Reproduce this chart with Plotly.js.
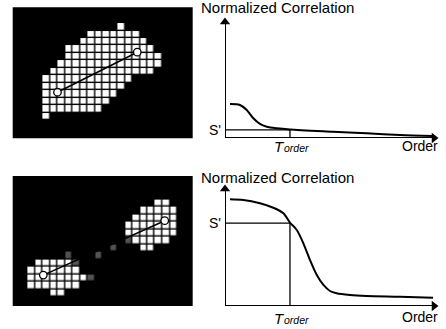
<!DOCTYPE html>
<html><head><meta charset="utf-8">
<script src="https://cdn.plot.ly/plotly-3.0.1.min.js"></script>
<style>html,body{margin:0;padding:0;background:#fff}#chart{width:446px;height:329px}</style>
</head><body><div id="chart"></div>
<script>
// ---- Panel 1: single connected pixel region ('#' white pixel, '.' empty)
const grid1Rows = [
  "..........#.....",
  "......#######...",
  ".....#########..",
  "...############.",
  "...#############",
  "..##############",
  ".##############.",
  "############....",
  "###########.....",
  "##########......",
  "#########.......",
  "########........",
  "#..............."
];
// ---- Panel 2: two separated pixel clusters ('+' dim noise pixel)
const grid2Rows = [
  ".................##.",
  "...............#####",
  "..............######",
  ".............#######",
  ".............#######",
  ".............+#####.",
  "...........+...##...",
  ".....+...+..........",
  ".#####+.............",
  "#######.............",
  "########+...........",
  "#######.............",
  "...##..............."
];
// endpoints of the pixel pair (cell units: column, row)
const link1Col = [1.51, 12.15], link1Row = [8.73, 3.39];
const link2Col = [1.62, 17.81], link2Row = [9.57, 2.31];

// ---- Normalized correlation vs order (top chart)
const order1 = [2.35, 7.0, 10.2, 13.3, 16.4, 19.6, 24.3, 30.5, 50.7, 66.5, 82.2, 97.7];
const corr1  = [28.3, 27.5, 23.3, 16.4, 11.7, 9.4, 8.1, 7.1, 5.25, 3.9, 2.5, 1.7];
const sPrime1 = 6.7, tOrder1 = 30.5;
// ---- bottom chart
const order2 = [2.35, 8.6, 16.4, 22.7, 27.4, 30.5, 33.7, 36.8, 39.9, 43.1, 46.2, 49.3, 52.4, 58.7, 66.5, 82.2, 97.7];
const corr2  = [88.2, 87.6, 84.9, 81.2, 76.6, 69.0, 62.8, 51.8, 38.0, 25.6, 17.4, 12.4, 10.5, 9.1, 8.3, 7.7, 6.9];
const sPrime2 = 68.5, tOrder2 = 30.5;

const yTitle = "Normalized Correlation";
const xTitle = "Order";
const sLabel = "S'";
const tMain = "T", tSub = "order";

const W = 446, H = 329;
const px = v => v / W, py = v => 1 - v / H;

function gridZ(rows) {
  const map = {'#': 1, '+': 0.32, '.': null};
  return rows.map(r => r.split('').map(ch => map[ch]));
}
function heat(rows, xa, ya) {
  const z = gridZ(rows);
  return {
    type: 'heatmap', z: z,
    x: z[0].map((_, i) => i), y: z.map((_, i) => i),
    xaxis: xa, yaxis: ya, zmin: 0, zmax: 1,
    colorscale: [[0, '#000'], [1, '#fff']], showscale: false,
    xgap: 1.4, ygap: 1.4, hoverinfo: 'skip'
  };
}
function link(xs, ys, xa, ya) {
  return {
    type: 'scatter', mode: 'lines+markers', x: xs, y: ys, xaxis: xa, yaxis: ya,
    line: {color: '#000', width: 1.6},
    marker: {symbol: 'circle', size: 7.5, color: '#fff', line: {color: '#000', width: 1.3}},
    hoverinfo: 'skip'
  };
}
function curve(xs, ys, xa, ya) {
  return {type: 'scatter', mode: 'lines', x: xs, y: ys, xaxis: xa, yaxis: ya,
    line: {color: '#000', width: 2, shape: 'spline', smoothing: 0.8}, hoverinfo: 'skip'};
}
function guide(s, t, xa, ya) {
  return {type: 'scatter', mode: 'lines', x: [0, t, t], y: [s, s, 0], xaxis: xa, yaxis: ya,
    line: {color: '#000', width: 1.3}, hoverinfo: 'skip'};
}
// axes drawn as arrows: line from origin plus a triangular head at the range end
function axisArrows(xa, ya, yPxPerUnit) {
  const hx = 100 - 4 / 2.13, hy = 100 - 4 / yPxPerUnit;
  return [
    {type: 'scatter', mode: 'lines', x: [0, 0], y: [0, hy], xaxis: xa, yaxis: ya,
      line: {color: '#000', width: 2}, hoverinfo: 'skip', cliponaxis: false},
    {type: 'scatter', mode: 'lines', x: [0, hx], y: [0, 0], xaxis: xa, yaxis: ya,
      line: {color: '#000', width: 2}, hoverinfo: 'skip', cliponaxis: false},
    {type: 'scatter', mode: 'markers', x: [0], y: [hy], xaxis: xa, yaxis: ya,
      marker: {symbol: 'triangle-up', size: 9, color: '#000', line: {width: 0}},
      hoverinfo: 'skip', cliponaxis: false},
    {type: 'scatter', mode: 'markers', x: [hx], y: [0], xaxis: xa, yaxis: ya,
      marker: {symbol: 'triangle-right', size: 9, color: '#000', line: {width: 0}},
      hoverinfo: 'skip', cliponaxis: false}
  ];
}

const traces = [
  heat(grid1Rows, 'x', 'y'), link(link1Col, link1Row, 'x', 'y'),
  heat(grid2Rows, 'x2', 'y2'), link(link2Col, link2Row, 'x2', 'y2'),
  guide(sPrime1, tOrder1, 'x3', 'y3'), curve(order1, corr1, 'x3', 'y3'),
  guide(sPrime2, tOrder2, 'x4', 'y4'), curve(order2, corr2, 'x4', 'y4')
].concat(axisArrows('x3', 'y3', 1.2), axisArrows('x4', 'y4', 1.21));

const hid = {visible: false, fixedrange: true};
const layout = {
  width: W, height: H, margin: {l: 0, r: 0, t: 0, b: 0},
  paper_bgcolor: '#fff', plot_bgcolor: 'rgba(0,0,0,0)', showlegend: false,
  xaxis:  Object.assign({domain: [px(12.7), px(192.7)], range: [-4.46, 19.54]}, hid),
  yaxis:  Object.assign({domain: [py(138.3), py(7.3)], range: [14.87, -2.6]}, hid),
  xaxis2: Object.assign({domain: [px(12.7), px(192.7)], range: [-2.46, 21.54]}, hid),
  yaxis2: Object.assign({domain: [py(306), py(176)], range: [13.69, -3.65]}, hid),
  xaxis3: Object.assign({domain: [px(225), px(438)], range: [0, 100]}, hid),
  yaxis3: Object.assign({domain: [py(138), py(18)], range: [0, 100]}, hid),
  xaxis4: Object.assign({domain: [px(225), px(438)], range: [0, 100]}, hid),
  yaxis4: Object.assign({domain: [py(306), py(185)], range: [0, 100]}, hid),
  shapes: [
    {type: 'rect', xref: 'x domain', yref: 'y domain', x0: 0, x1: 1, y0: 0, y1: 1, fillcolor: '#000', line: {width: 0}, layer: 'below'},
    {type: 'rect', xref: 'x2 domain', yref: 'y2 domain', x0: 0, x1: 1, y0: 0, y1: 1, fillcolor: '#000', line: {width: 0}, layer: 'below'}
  ],
  annotations: []
};

const font = {family: 'Liberation Sans, Arial, sans-serif', color: '#000'};
[['x3', 'y3', sPrime1, tOrder1, 7.5, 146, 146], ['x4', 'y4', sPrime2, tOrder2, 177.5, 318, 316.5]].forEach(([xa, ya, s, t, ty, tly, oy]) => {
  layout.annotations.push({xref: 'paper', yref: 'paper', x: px(199), y: py(ty), xanchor: 'left', yanchor: 'middle',
    text: yTitle, showarrow: false, font: Object.assign({size: 15}, font)});
  layout.annotations.push({xref: 'paper', yref: ya, x: px(223), y: s, xanchor: 'right', yanchor: 'middle',
    text: sLabel, showarrow: false, font: Object.assign({size: 14}, font)});
  layout.annotations.push({xref: xa, yref: 'paper', x: t, y: py(tly), xanchor: 'right', yanchor: 'middle', xshift: -3,
    text: '<i>' + tMain + '</i>', showarrow: false, font: Object.assign({size: 15}, font)});
  layout.annotations.push({xref: xa, yref: 'paper', x: t, y: py(tly + 2), xanchor: 'left', yanchor: 'middle', xshift: -8,
    text: '<i>' + tSub + '</i>', showarrow: false, font: Object.assign({size: 10.5}, font)});
  layout.annotations.push({xref: 'paper', yref: 'paper', x: px(440), y: py(oy), xanchor: 'right', yanchor: 'middle',
    text: xTitle, showarrow: false, font: Object.assign({size: 14}, font)});
});

Plotly.newPlot('chart', traces, layout, {staticPlot: true, displayModeBar: false});
</script>
</body></html>
